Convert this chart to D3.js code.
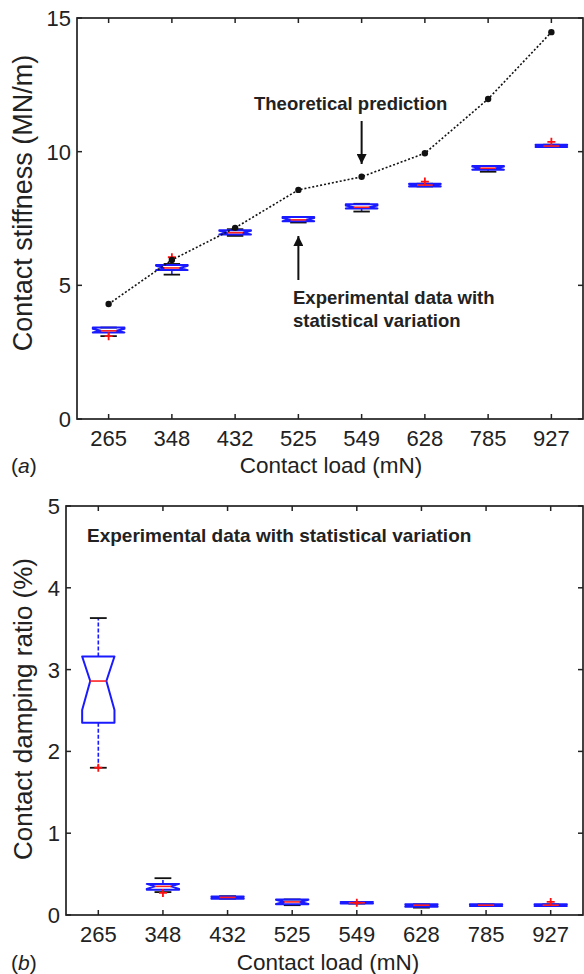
<!DOCTYPE html>
<html>
  <head>
    <script type="text/javascript" src="https://cdnjs.cloudflare.com/ajax/libs/d3/7.8.5/d3.min.js"></script>
    <style>
      body { margin: 0; background: #fff; }
      text { font-family: "Liberation Sans", Arial, sans-serif; fill: #222; }
    </style>
  </head>
  <body>
  <script type='text/javascript'>

    // contact load categories (mN)
    var loads = ["265", "348", "432", "525", "549", "628", "785", "927"];

    // (a) contact stiffness, MN/m
    var theory = [4.3, 5.95, 7.15, 8.57, 9.06, 9.94, 11.97, 14.47];
    var stiffQ1  = [3.24, 5.57, 6.9, 7.4, 7.87, 8.7, 9.32, 10.17];
    var stiffMed = [3.3, 5.65, 6.97, 7.45, 7.92, 8.75, 9.38, 10.21];
    var stiffQ3  = [3.42, 5.76, 7.06, 7.56, 8.03, 8.8, 9.46, 10.26];
    var stiffLo  = [3.1, 5.4, 6.85, 7.35, 7.76, 8.7, 9.25, 10.17];
    var stiffHi  = [3.42, 5.8, 7.1, 7.56, 8.05, 8.8, 9.46, 10.26];
    var stiffOut = [[3.1], [6.05], [], [], [], [8.88], [], [10.37]];
    var stiffTicks = [0, 5, 10, 15];

    // (b) contact damping ratio, %
    var dampQ1  = [2.35, 0.31, 0.2, 0.13, 0.14, 0.1, 0.11, 0.11];
    var dampMed = [2.86, 0.35, 0.215, 0.16, 0.15, 0.12, 0.12, 0.12];
    var dampQ3  = [3.16, 0.38, 0.225, 0.19, 0.16, 0.13, 0.13, 0.13];
    var dampLo  = [1.8, 0.28, 0.2, 0.12, 0.14, 0.09, 0.11, 0.11];
    var dampHi  = [3.63, 0.45, 0.23, 0.19, 0.16, 0.13, 0.13, 0.13];
    var dampOut = [[1.8], [0.27], [], [], [0.15], [], [], [0.16]];
    var dampTicks = [0, 1, 2, 3, 4, 5];

    var NSAMPLES = 13;

    var svg = d3.select("body").append("svg")
        .attr("width", 584)
        .attr("height", 974);

    svg.append("defs").append("marker")
        .attr("id", "arrow")
        .attr("viewBox", "0 0 10 10")
        .attr("refX", 10).attr("refY", 5)
        .attr("markerWidth", 10).attr("markerHeight", 10)
        .attr("markerUnits", "userSpaceOnUse")
        .attr("orient", "auto")
      .append("path")
        .attr("d", "M0,0 L10,5 L0,10 Z")
        .attr("fill", "#111");

    function panel(box, yMax, ticks, q1, med, q3, lo, hi, out){
      var x = d3.scaleLinear().domain([0.5, loads.length + 0.5]).range([box.left, box.right]);
      var y = d3.scaleLinear().domain([0, yMax]).range([box.bottom, box.top]);
      var g = svg.append("g");
      var step = x(2) - x(1);
      var bw = step * 0.25;   // half box width
      var cw = step * 0.13;   // half cap width

      // frame + inward ticks
      g.append("rect")
          .attr("x", box.left).attr("y", box.top)
          .attr("width", box.right - box.left).attr("height", box.bottom - box.top)
          .attr("fill", "none").attr("stroke", "#222").attr("stroke-width", 1.7);

      loads.forEach(function(l, i){
        var xx = x(i + 1);
        g.append("line").attr("x1", xx).attr("x2", xx).attr("y1", box.bottom).attr("y2", box.bottom - 5)
            .attr("stroke", "#222").attr("stroke-width", 1.5);
        g.append("line").attr("x1", xx).attr("x2", xx).attr("y1", box.top).attr("y2", box.top + 5)
            .attr("stroke", "#222").attr("stroke-width", 1.5);
        g.append("text").attr("x", xx).attr("y", box.bottom + 27)
            .attr("text-anchor", "middle").attr("font-size", 22).text(l);
      });

      ticks.forEach(function(t){
        var yy = y(t);
        g.append("line").attr("x1", box.left).attr("x2", box.left + 5).attr("y1", yy).attr("y2", yy)
            .attr("stroke", "#222").attr("stroke-width", 1.5);
        g.append("line").attr("x1", box.right).attr("x2", box.right - 5).attr("y1", yy).attr("y2", yy)
            .attr("stroke", "#222").attr("stroke-width", 1.5);
        g.append("text").attr("x", box.left - 6).attr("y", yy + 8)
            .attr("text-anchor", "end").attr("font-size", 22).text(t);
      });

      // boxes
      loads.forEach(function(l, i){
        var cx = x(i + 1);
        var iqr = q3[i] - q1[i];
        var nLo = Math.max(q1[i], med[i] - 1.57 * iqr / Math.sqrt(NSAMPLES));
        var nHi = Math.min(q3[i], med[i] + 1.57 * iqr / Math.sqrt(NSAMPLES));

        // whiskers
        g.append("line").attr("x1", cx).attr("x2", cx).attr("y1", y(q3[i])).attr("y2", y(hi[i]))
            .attr("stroke", "#1a1aff").attr("stroke-width", 1.6).attr("stroke-dasharray", "4,2");
        g.append("line").attr("x1", cx).attr("x2", cx).attr("y1", y(q1[i])).attr("y2", y(lo[i]))
            .attr("stroke", "#1a1aff").attr("stroke-width", 1.6).attr("stroke-dasharray", "4,2");
        [lo[i], hi[i]].forEach(function(v){
          g.append("line").attr("x1", cx - cw).attr("x2", cx + cw).attr("y1", y(v)).attr("y2", y(v))
              .attr("stroke", "#111").attr("stroke-width", 1.8);
        });

        // notched box
        var pts = [
          [cx - bw, y(q3[i])], [cx + bw, y(q3[i])], [cx + bw, y(nHi)],
          [cx + bw / 2, y(med[i])], [cx + bw, y(nLo)], [cx + bw, y(q1[i])],
          [cx - bw, y(q1[i])], [cx - bw, y(nLo)], [cx - bw / 2, y(med[i])],
          [cx - bw, y(nHi)]
        ];
        g.append("path").attr("d", d3.line()(pts) + "Z")
            .attr("fill", "none").attr("stroke", "#1a1aff").attr("stroke-width", 2)
            .attr("stroke-linejoin", "round");

        // median
        g.append("line").attr("x1", cx - bw / 2).attr("x2", cx + bw / 2)
            .attr("y1", y(med[i])).attr("y2", y(med[i]))
            .attr("stroke", "#ff2020").attr("stroke-width", 1.6);

        // outliers
        out[i].forEach(function(v){
          g.append("path").attr("d", "M" + (cx - 4) + "," + y(v) + "h8M" + cx + "," + (y(v) - 4) + "v8")
              .attr("stroke", "#ff1010").attr("stroke-width", 1.8);
        });
      });

      return {x: x, y: y, g: g};
    }

    // ---- (a) stiffness
    var boxA = {left: 77, right: 583, top: 18, bottom: 419};
    var pa = panel(boxA, 15, stiffTicks, stiffQ1, stiffMed, stiffQ3, stiffLo, stiffHi, stiffOut);

    var line = d3.line()
        .x(function(d, i){ return pa.x(i + 1); })
        .y(function(d){ return pa.y(d); });

    pa.g.append("path").datum(theory)
        .attr("d", line)
        .attr("fill", "none").attr("stroke", "#111")
        .attr("stroke-width", 1.6).attr("stroke-dasharray", "2,2");

    pa.g.selectAll(".tp").data(theory).enter().append("circle")
        .attr("cx", function(d, i){ return pa.x(i + 1); })
        .attr("cy", function(d){ return pa.y(d); })
        .attr("r", 3.2).attr("fill", "#111");

    // annotations
    pa.g.append("text").attr("x", 254).attr("y", 110)
        .attr("font-size", 18.5).attr("font-weight", "bold").text("Theoretical prediction");
    pa.g.append("line").attr("x1", pa.x(5)).attr("x2", pa.x(5)).attr("y1", 121).attr("y2", 164)
        .attr("stroke", "#111").attr("stroke-width", 2).attr("marker-end", "url(#arrow)");

    pa.g.append("text").attr("x", 293).attr("y", 304)
        .attr("font-size", 18.5).attr("font-weight", "bold").text("Experimental data with");
    pa.g.append("text").attr("x", 293).attr("y", 327)
        .attr("font-size", 18.5).attr("font-weight", "bold").text("statistical variation");
    pa.g.append("line").attr("x1", pa.x(4)).attr("x2", pa.x(4)).attr("y1", 280).attr("y2", 236)
        .attr("stroke", "#111").attr("stroke-width", 2).attr("marker-end", "url(#arrow)");

    svg.append("text").attr("transform", "translate(32," + 203 + ") rotate(-90)")
        .attr("text-anchor", "middle").attr("font-size", 27).text("Contact stiffness (MN/m)");
    svg.append("text").attr("x", 331).attr("y", 473)
        .attr("text-anchor", "middle").attr("font-size", 22.5).text("Contact load (mN)");
    svg.append("text").attr("x", 11).attr("y", 473).attr("font-size", 21)
        .html('(<tspan font-style="italic">a</tspan>)');

    // ---- (b) damping
    var boxB = {left: 66, right: 583, top: 506, bottom: 915};
    var pb = panel(boxB, 5, dampTicks, dampQ1, dampMed, dampQ3, dampLo, dampHi, dampOut);

    pb.g.append("text").attr("x", 87).attr("y", 542)
        .attr("font-size", 19).attr("font-weight", "bold").text("Experimental data with statistical variation");

    svg.append("text").attr("transform", "translate(32," + 709 + ") rotate(-90)")
        .attr("text-anchor", "middle").attr("font-size", 26).text("Contact damping ratio (%)");
    svg.append("text").attr("x", 328).attr("y", 970)
        .attr("text-anchor", "middle").attr("font-size", 22.5).text("Contact load (mN)");
    svg.append("text").attr("x", 11).attr("y", 970).attr("font-size", 21)
        .html('(<tspan font-style="italic">b</tspan>)');

  </script>
  </body>
</html>
